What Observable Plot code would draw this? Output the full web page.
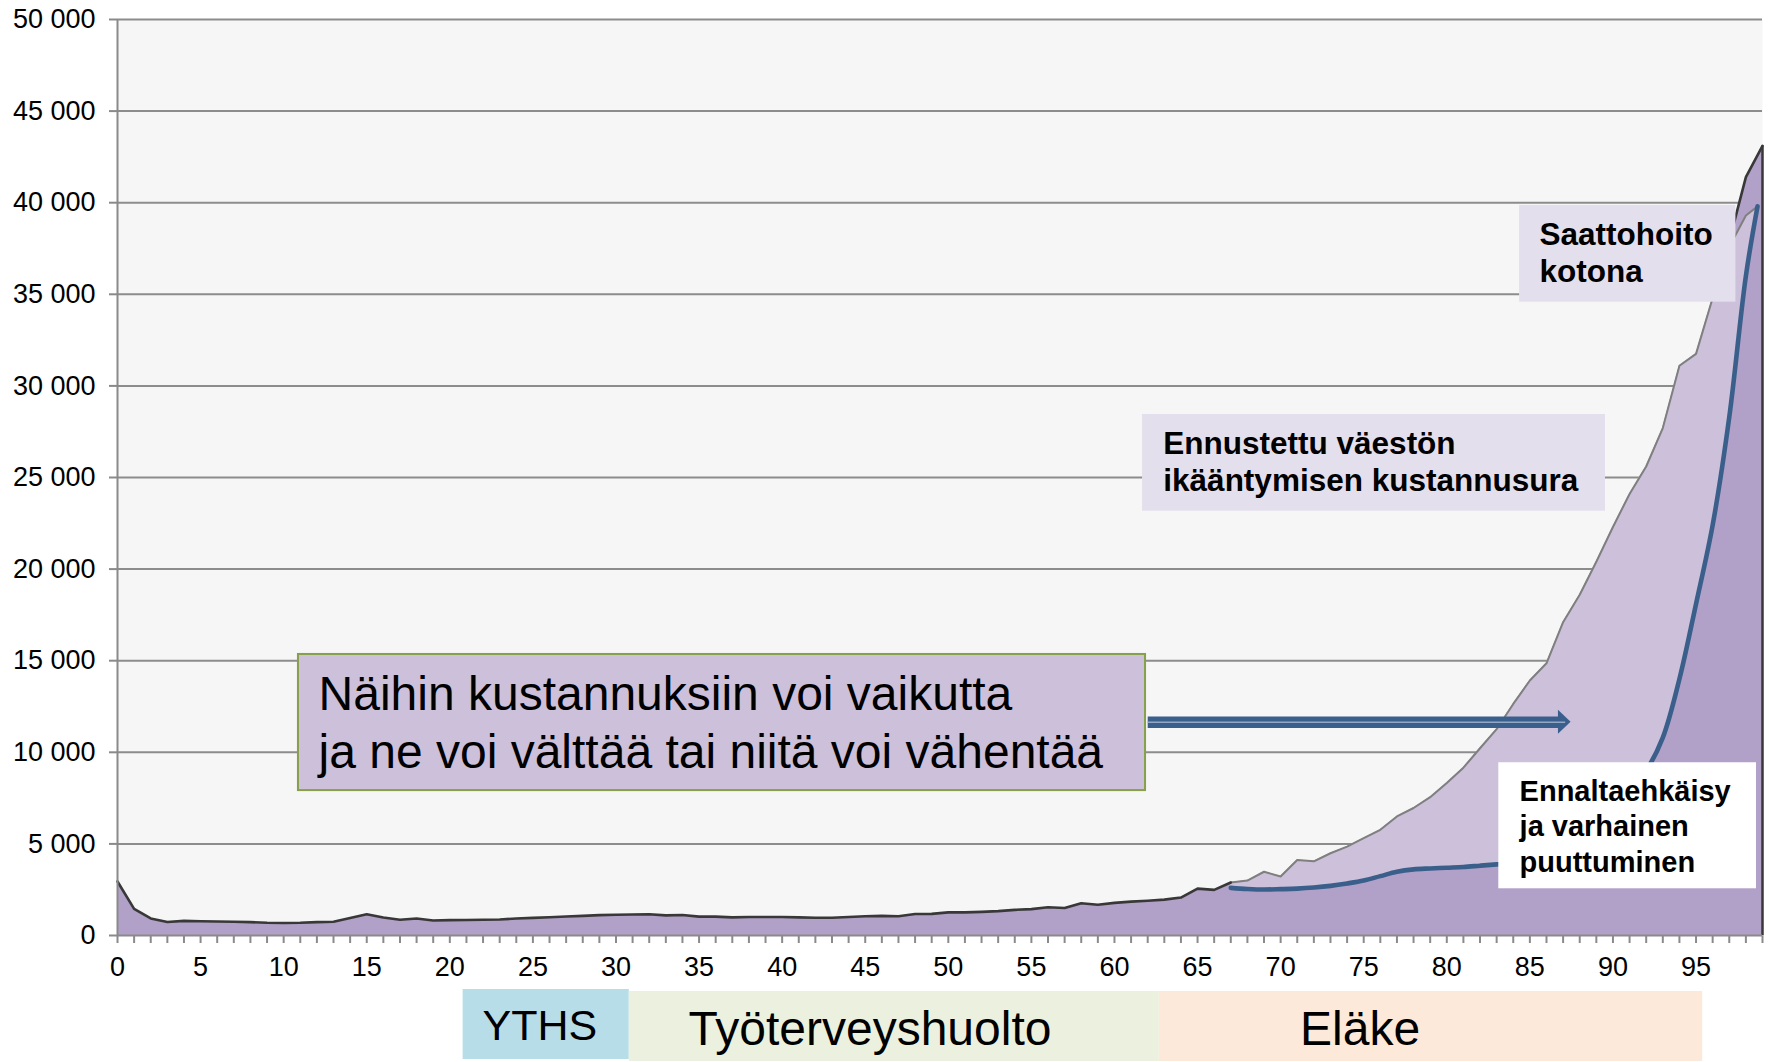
<!DOCTYPE html>
<html>
<head>
<meta charset="utf-8">
<script src="https://cdn.jsdelivr.net/npm/d3@7"></script>
<script src="https://cdn.jsdelivr.net/npm/@observablehq/plot@0.6"></script>
<style>
  html, body { margin: 0; padding: 0; background: #ffffff; }
  #chart svg text { fill: #000000; }
  #chart svg [aria-label^="x-axis"] text, #chart svg [aria-label^="y-axis"] text {
    font-size: 27px; font-family: "Liberation Sans", Arial, sans-serif;
  }
  #chart svg [aria-label="x-axis"] .tick line, #chart svg [aria-label="y-axis"] .tick line,
  #chart svg [aria-label="x-axis tick"] path, #chart svg [aria-label="y-axis tick"] path {
    stroke-width: 2px; stroke: #8a8a8a;
  }
</style>
</head>
<body>
<div id="chart"></div>
<script>
// ---------- data ----------
const ages = d3.range(0, 100);
// cost per person by age (envelope curve, black / grey outline)
const cost = [
  2950, 1450, 930, 740, 800, 780, 765, 750, 730, 695,
  680, 695, 730, 750, 950, 1160, 980, 860, 930, 820,
  840, 845, 860, 870, 930, 960, 1000, 1040, 1070, 1110,
  1130, 1150, 1160, 1100, 1120, 1030, 1030, 990, 1010, 1010,
  1010, 990, 970, 970, 1010, 1050, 1070, 1050, 1170, 1180,
  1260, 1260, 1290, 1330, 1400, 1440, 1540, 1500, 1760, 1680,
  1780, 1850, 1900, 1960, 2070, 2560, 2490, 2890, 3000, 3480,
  3220, 4120, 4050, 4490, 4850, 5310, 5770, 6500, 6960, 7550,
  8330, 9160, 10220, 11260, 12640, 13920, 14860, 17100, 18600, 20400,
  22300, 24100, 25600, 27700, 31100, 31750, 34800, 37900, 41400, 43100
];
// projected ageing cost curve (grey) and prevention curve (blue)
const curveAges = [67, 68, 69, 70, 71, 72, 73, 74, 75, 76, 77, 78, 79, 80, 81, 82,
  83, 84, 85, 86, 87, 88, 89, 90, 91, 92, 93, 94, 95, 96, 97, 98, 98.7];
const agingCost = [2890, 3000, 3480, 3220, 4120, 4050, 4490, 4850, 5310, 5770, 6500, 6960,
  7550, 8330, 9160, 10220, 11260, 12640, 13920, 14860, 17100, 18600, 20400, 22300, 24100,
  25600, 27700, 31100, 31750, 34800, 37600, 39300, 39800];
const preventCost = [2600, 2540, 2510, 2530, 2560, 2620, 2710, 2840, 3000, 3240, 3480, 3610,
  3660, 3700, 3740, 3810, 3880, 3950, 4050, 4200, 4500, 5000, 5700, 6700, 7900,
  9000, 10800, 14000, 18100, 22400, 28300, 36000, 39800];
const yTicks = [0, 5000, 10000, 15000, 20000, 25000, 30000, 35000, 40000, 45000, 50000];
// life-stage bands below the axis (age ranges)
const bandNames = ["YTHS", "Työterveyshuolto", "Eläke"];
const bandStart = [20.8, 30.8, 62.7];
const bandEnd = [30.8, 62.7, 95.4];
// annotation texts
const noteTexts = [
  "Saattohoito\nkotona",
  "Ennustettu väestön\nikääntymisen kustannusura",
  "Ennaltaehkäisy\nja varhainen\npuuttuminen",
  "Näihin kustannuksiin voi vaikutta\nja ne voi välttää tai niitä voi vähentää"
];

// ---------- layout (annotation placement in axis units) ----------
const layout = {
  notes: [
    {x1: 84.38, x2: 97.4, y1: 34570, y2: 39850, tx: 85.58, ty: 39110, fill: "#e4dfec", size: 31.5, weight: "bold", lh: 1.165},
    {x1: 61.69, x2: 89.55, y1: 23160, y2: 28440, tx: 62.94, ty: 27770, fill: "#e4dfec", size: 31.5, weight: "bold", lh: 1.2},
    {x1: 83.13, x2: 98.64, y1: 2550, y2: 9430, tx: 84.38, ty: 8750, fill: "#ffffff", size: 29, weight: "bold", lh: 1.23},
    {x1: 10.89, x2: 61.87, y1: 7910, y2: 15340, tx: 12.1, ty: 14530, fill: "#ccc0da", size: 48, weight: "normal", lh: 1.2, stroke: "#86a047"}
  ],
  arrow: {x1: 62.0, xb: 86.72, xt: 87.48, y: 11640, headHalf: 655},
  bands: [
    {y: 989, h: 70, fill: "#b7dde8", label: 22.0, base: 1040, size: 43},
    {y: 991, h: 70, fill: "#ebf1de", label: 34.4, base: 1045, size: 48},
    {y: 991, h: 70, fill: "#fde9d9", label: 71.2, base: 1045, size: 48}
  ]
};

// ---------- tables ----------
const main = ages.map((a, i) => ({age: a, cost: cost[i], seg: a <= 67 ? "a" : (a >= 96 ? "b" : null)}));
const proj = curveAges.map((a, i) => ({age: a, top: agingCost[i], low: preventCost[i]}));
const last = main[main.length - 1];
const fmt = d3.formatLocale({decimal: ",", thousands: " ", grouping: [3]}).format(",d");
const A = layout.arrow;
const arrowShaft = [{x1: A.x1, x2: A.xb, y: A.y}];
const arrowHead = [{x: A.xb, lo: A.y - A.headHalf, hi: A.y + A.headHalf}, {x: A.xt, lo: A.y, hi: A.y}];

const noteMarks = [];
layout.notes.forEach((n, i) => {
  noteMarks.push(Plot.rect([n], {x1: "x1", x2: "x2", y1: "y1", y2: "y2", fill: n.fill,
    stroke: n.stroke || "none", strokeWidth: n.stroke ? 2 : 0}));
  noteMarks.push(Plot.text([{x: n.tx, y: n.ty, t: noteTexts[i]}], {x: "x", y: "y", text: "t",
    textAnchor: "start", lineAnchor: "top", lineHeight: n.lh, fontSize: n.size, fontWeight: n.weight,
    fill: "#000", fontFamily: '"Liberation Sans", Arial, sans-serif'}));
});

const chart = Plot.plot({
  width: 1770,
  height: 1062,
  marginLeft: 117,
  marginRight: 8,
  marginTop: 19,
  marginBottom: 127,
  style: {fontFamily: '"Liberation Sans", Arial, sans-serif', fontSize: "27px", color: "#8a8a8a", background: "transparent", overflow: "visible"},
  x: {domain: [0, 99], ticks: ages, tickSize: 8, tickPadding: 13, tickFormat: d => (d % 5 === 0 ? String(d) : ""), label: null},
  y: {domain: [0, 50000], ticks: yTicks, tickSize: 8, tickPadding: 14, tickFormat: fmt, label: null},
  marks: [
    Plot.frame({fill: "#f6f6f6", stroke: "none"}),
    Plot.ruleY(yTicks.filter(d => d > 0), {stroke: "#8c8c8c", strokeWidth: 2}),
    Plot.areaY(main, {x: "age", y: "cost", fill: "#b1a0c7"}),
    Plot.areaY(proj, {x: "age", y1: "low", y2: "top", fill: "#ccc0da"}),
    Plot.line(proj, {x: "age", y: "top", stroke: "#7f7f7f", strokeWidth: 2}),
    Plot.line(main.filter(d => d.seg), {x: "age", y: "cost", z: "seg", stroke: "#383838", strokeWidth: 2.6}),
    Plot.ruleX([last], {x: "age", y1: 0, y2: "cost", stroke: "#383838", strokeWidth: 2.5}),
    Plot.line(proj, {x: "age", y: "low", stroke: "#3a5f8b", strokeWidth: 4.6, curve: "catmull-rom"}),
    Plot.ruleY([0], {stroke: "#8a8a8a", strokeWidth: 2}),
    Plot.ruleX([0], {stroke: "#8a8a8a", strokeWidth: 2}),
    ...noteMarks,
    Plot.link(arrowShaft, {x1: "x1", x2: "x2", y1: "y", y2: "y", stroke: "#3b5f8c", strokeWidth: 11.5, strokeLinecap: "butt"}),
    Plot.areaY(arrowHead, {x: "x", y1: "lo", y2: "hi", fill: "#3b5f8c"}),
    Plot.link(arrowShaft, {x1: "x1", x2: d => d.x2 + 0.4, y1: "y", y2: "y", stroke: "#93a8c4", strokeWidth: 1.3, strokeLinecap: "butt"})
  ]
});

// life-stage bands under the x axis, positioned with the chart's x scale
const sx = chart.scale("x");
const g = d3.select(chart).append("g").attr("aria-label", "life stages");
bandNames.forEach((name, i) => {
  const b = layout.bands[i];
  const x1 = sx.apply(bandStart[i]), x2 = sx.apply(bandEnd[i]);
  g.append("rect").attr("x", x1).attr("y", b.y).attr("width", x2 - x1).attr("height", b.h).attr("fill", b.fill);
  g.append("text").attr("x", sx.apply(b.label)).attr("y", b.base)
    .attr("text-anchor", "start")
    .attr("font-size", b.size).attr("font-family", '"Liberation Sans", Arial, sans-serif')
    .attr("fill", "#000").text(name);
});

document.getElementById("chart").appendChild(chart);
</script>
</body>
</html>
